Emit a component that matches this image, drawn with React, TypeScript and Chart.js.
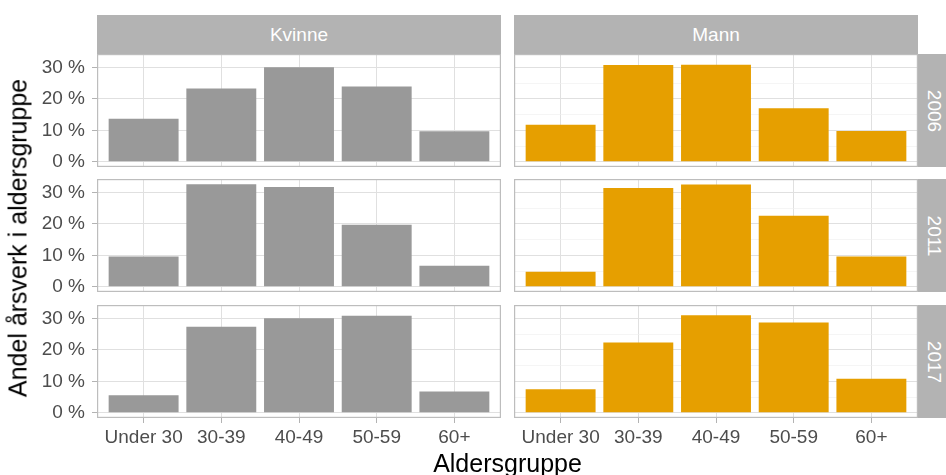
import React, { useEffect, useRef } from 'react';
import { Chart, registerables } from 'chart.js';

Chart.register(...registerables);

// ---- data ----
const ageGroups = ['Under 30', '30-39', '40-49', '50-59', '60+'];
const genders = ['Kvinne', 'Mann'];
const years = ['2006', '2011', '2017'];

const kvinne2006 = [13.7, 23.3, 30.0, 23.9, 9.7];
const kvinne2011 = [9.6, 32.6, 31.7, 19.7, 6.7];
const kvinne2017 = [5.6, 27.3, 30.0, 30.8, 6.8];
const mann2006 = [11.8, 30.7, 30.8, 17.0, 9.8];
const mann2011 = [4.8, 31.4, 32.5, 22.6, 9.6];
const mann2017 = [7.5, 22.3, 31.0, 28.7, 10.8];

const yTickValues = [0, 5, 10, 15, 20, 25, 30];

const kvinneRows = [kvinne2006, kvinne2011, kvinne2017];
const mannRows = [mann2006, mann2011, mann2017];

// ---- styling / layout ----
const FONT = "'Liberation Sans', Arial, Helvetica, sans-serif";
const GENDER_COLORS = ['#999999', '#E69F00'];
const PANEL_LEFT = [97, 514];
const PANEL_W = 404;
const ROW_TOP = [54, 179, 305];
const PANEL_H = 113;
const Y_AXIS_W = 67;
const X_AXIS_H = 40;
const STRIP_BG = '#B3B3B3';

const allValues = [...kvinneRows.flat(), ...mannRows.flat()];
const dataMax = Math.max(...allValues);
const Y_MIN = -dataMax * 0.05;
const Y_MAX = dataMax * 1.05;

const borderPlugin = {
  id: 'panelBorder',
  afterDraw(chart: any) {
    const { ctx, chartArea } = chart;
    ctx.save();
    ctx.strokeStyle = '#BDBDBD';
    ctx.lineWidth = 1.2;
    ctx.strokeRect(
      chartArea.left + 0.6,
      chartArea.top + 0.6,
      chartArea.right - chartArea.left - 1.2,
      chartArea.bottom - chartArea.top - 1.2
    );
    ctx.restore();
  },
};

type PanelProps = {
  values: number[];
  color: string;
  showY: boolean;
  showX: boolean;
  panelLeft: number;
  panelTop: number;
};

function Panel({ values, color, showY, showX, panelLeft, panelTop }: PanelProps) {
  const ref = useRef<HTMLCanvasElement>(null);
  const yAxisW = showY ? Y_AXIS_W : 0;
  const xAxisH = showX ? X_AXIS_H : 0;
  const w = PANEL_W + yAxisW;
  const h = PANEL_H + xAxisH;

  useEffect(() => {
    if (!ref.current) return;
    const chart = new Chart(ref.current, {
      type: 'bar',
      data: {
        datasets: [
          {
            data: values.map((v, i) => ({ x: i + 1, y: v })),
            backgroundColor: color,
            borderWidth: 0,
            barPercentage: 0.9,
            categoryPercentage: 1,
          } as any,
        ],
      },
      options: {
        animation: false,
        responsive: false,
        maintainAspectRatio: false,
        layout: { padding: 0 },
        plugins: {
          legend: { display: false },
          tooltip: { enabled: false },
        },
        scales: {
          x: {
            type: 'linear',
            offset: false,
            min: 0.4,
            max: ageGroups.length + 0.6,
            afterBuildTicks: (s: any) => {
              s.ticks = ageGroups.map((_, i) => ({ value: i + 1 }));
            },
            ticks: {
              display: showX,
              autoSkip: false,
              maxRotation: 0,
              minRotation: 0,
              padding: 3,
              color: '#4D4D4D',
              font: { family: FONT, size: 19 },
              callback: (v: any) => ageGroups[Math.round(Number(v)) - 1] ?? '',
            },
            grid: {
              offset: false,
              color: '#E0E0E0',
              lineWidth: 1,
              drawTicks: showX,
              tickLength: 5,
              tickColor: '#B3B3B3',
            },
            border: { display: false },
            afterFit: (s: any) => {
              s.height = xAxisH;
              s.paddingLeft = 0;
              s.paddingRight = 0;
            },
          },
          y: {
            type: 'linear',
            min: Y_MIN,
            max: Y_MAX,
            afterBuildTicks: (s: any) => {
              s.ticks = yTickValues.map((v) => ({ value: v }));
            },
            ticks: {
              display: showY,
              padding: 7,
              color: '#4D4D4D',
              font: { family: FONT, size: 19 },
              callback: (v: any) => (Number(v) % 10 === 0 ? `${v} %` : ''),
            },
            grid: {
              color: (c: any) => (c.tick && c.tick.value % 10 === 0 ? '#E0E0E0' : '#EEEEEE'),
              lineWidth: (c: any) => (c.tick && c.tick.value % 10 === 0 ? 1 : 0.6),
              drawTicks: showY,
              tickLength: 5,
              tickColor: (c: any) =>
                c.tick && c.tick.value % 10 === 0 ? '#B3B3B3' : 'rgba(0,0,0,0)',
              tickWidth: 1,
            },
            border: { display: false },
            afterFit: (s: any) => {
              s.width = yAxisW;
              s.paddingTop = 0;
              s.paddingBottom = 0;
            },
          },
        },
      } as any,
      plugins: [borderPlugin],
    });
    return () => chart.destroy();
  }, []);

  return (
    <canvas
      ref={ref}
      width={w}
      height={h}
      style={{
        position: 'absolute',
        left: panelLeft - yAxisW,
        top: panelTop,
        width: w,
        height: h,
        display: 'block',
      }}
    />
  );
}

export default function App() {
  const panels: React.ReactNode[] = [];
  genders.forEach((g, gi) => {
    const rows = gi === 0 ? kvinneRows : mannRows;
    rows.forEach((vals, ri) => {
      panels.push(
        <Panel
          key={`${g}-${ri}`}
          values={vals}
          color={GENDER_COLORS[gi]}
          showY={gi === 0}
          showX={ri === rows.length - 1}
          panelLeft={PANEL_LEFT[gi]}
          panelTop={ROW_TOP[ri]}
        />
      );
    });
  });

  return (
    <div
      style={{
        position: 'absolute',
        left: 0,
        top: 0,
        width: 946,
        height: 475,
        overflow: 'hidden',
        background: '#FFFFFF',
        fontFamily: FONT,
      }}
    >
      {genders.map((g, gi) => (
        <div
          key={g}
          style={{
            position: 'absolute',
            left: PANEL_LEFT[gi],
            top: 15,
            width: PANEL_W,
            height: 39,
            background: STRIP_BG,
            color: '#FFFFFF',
            fontSize: 19,
            display: 'flex',
            alignItems: 'center',
            justifyContent: 'center',
            lineHeight: 1,
          }}
        >
          {g}
        </div>
      ))}
      {years.map((y, ri) => (
        <div
          key={y}
          style={{
            position: 'absolute',
            left: PANEL_LEFT[1] + PANEL_W,
            top: ROW_TOP[ri],
            width: 32,
            height: PANEL_H,
            background: STRIP_BG,
          }}
        >
          <div
            style={{
              position: 'absolute',
              left: 16,
              top: PANEL_H / 2,
              transform: 'translate(-50%, -50%) rotate(90deg)',
              color: '#FFFFFF',
              fontSize: 19,
              lineHeight: 1,
              whiteSpace: 'nowrap',
            }}
          >
            {y}
          </div>
        </div>
      ))}
      {panels}
      <div
        style={{
          position: 'absolute',
          left: 18,
          top: 238,
          transform: 'translate(-50%, -50%) rotate(-90deg)',
          fontSize: 25,
          lineHeight: 1,
          whiteSpace: 'nowrap',
          color: '#000000',
        }}
      >
        Andel årsverk i aldersgruppe
      </div>
      <div
        style={{
          position: 'absolute',
          left: 507.5,
          top: 463,
          transform: 'translate(-50%, -50%)',
          fontSize: 25,
          lineHeight: 1,
          whiteSpace: 'nowrap',
          color: '#000000',
        }}
      >
        Aldersgruppe
      </div>
    </div>
  );
}
